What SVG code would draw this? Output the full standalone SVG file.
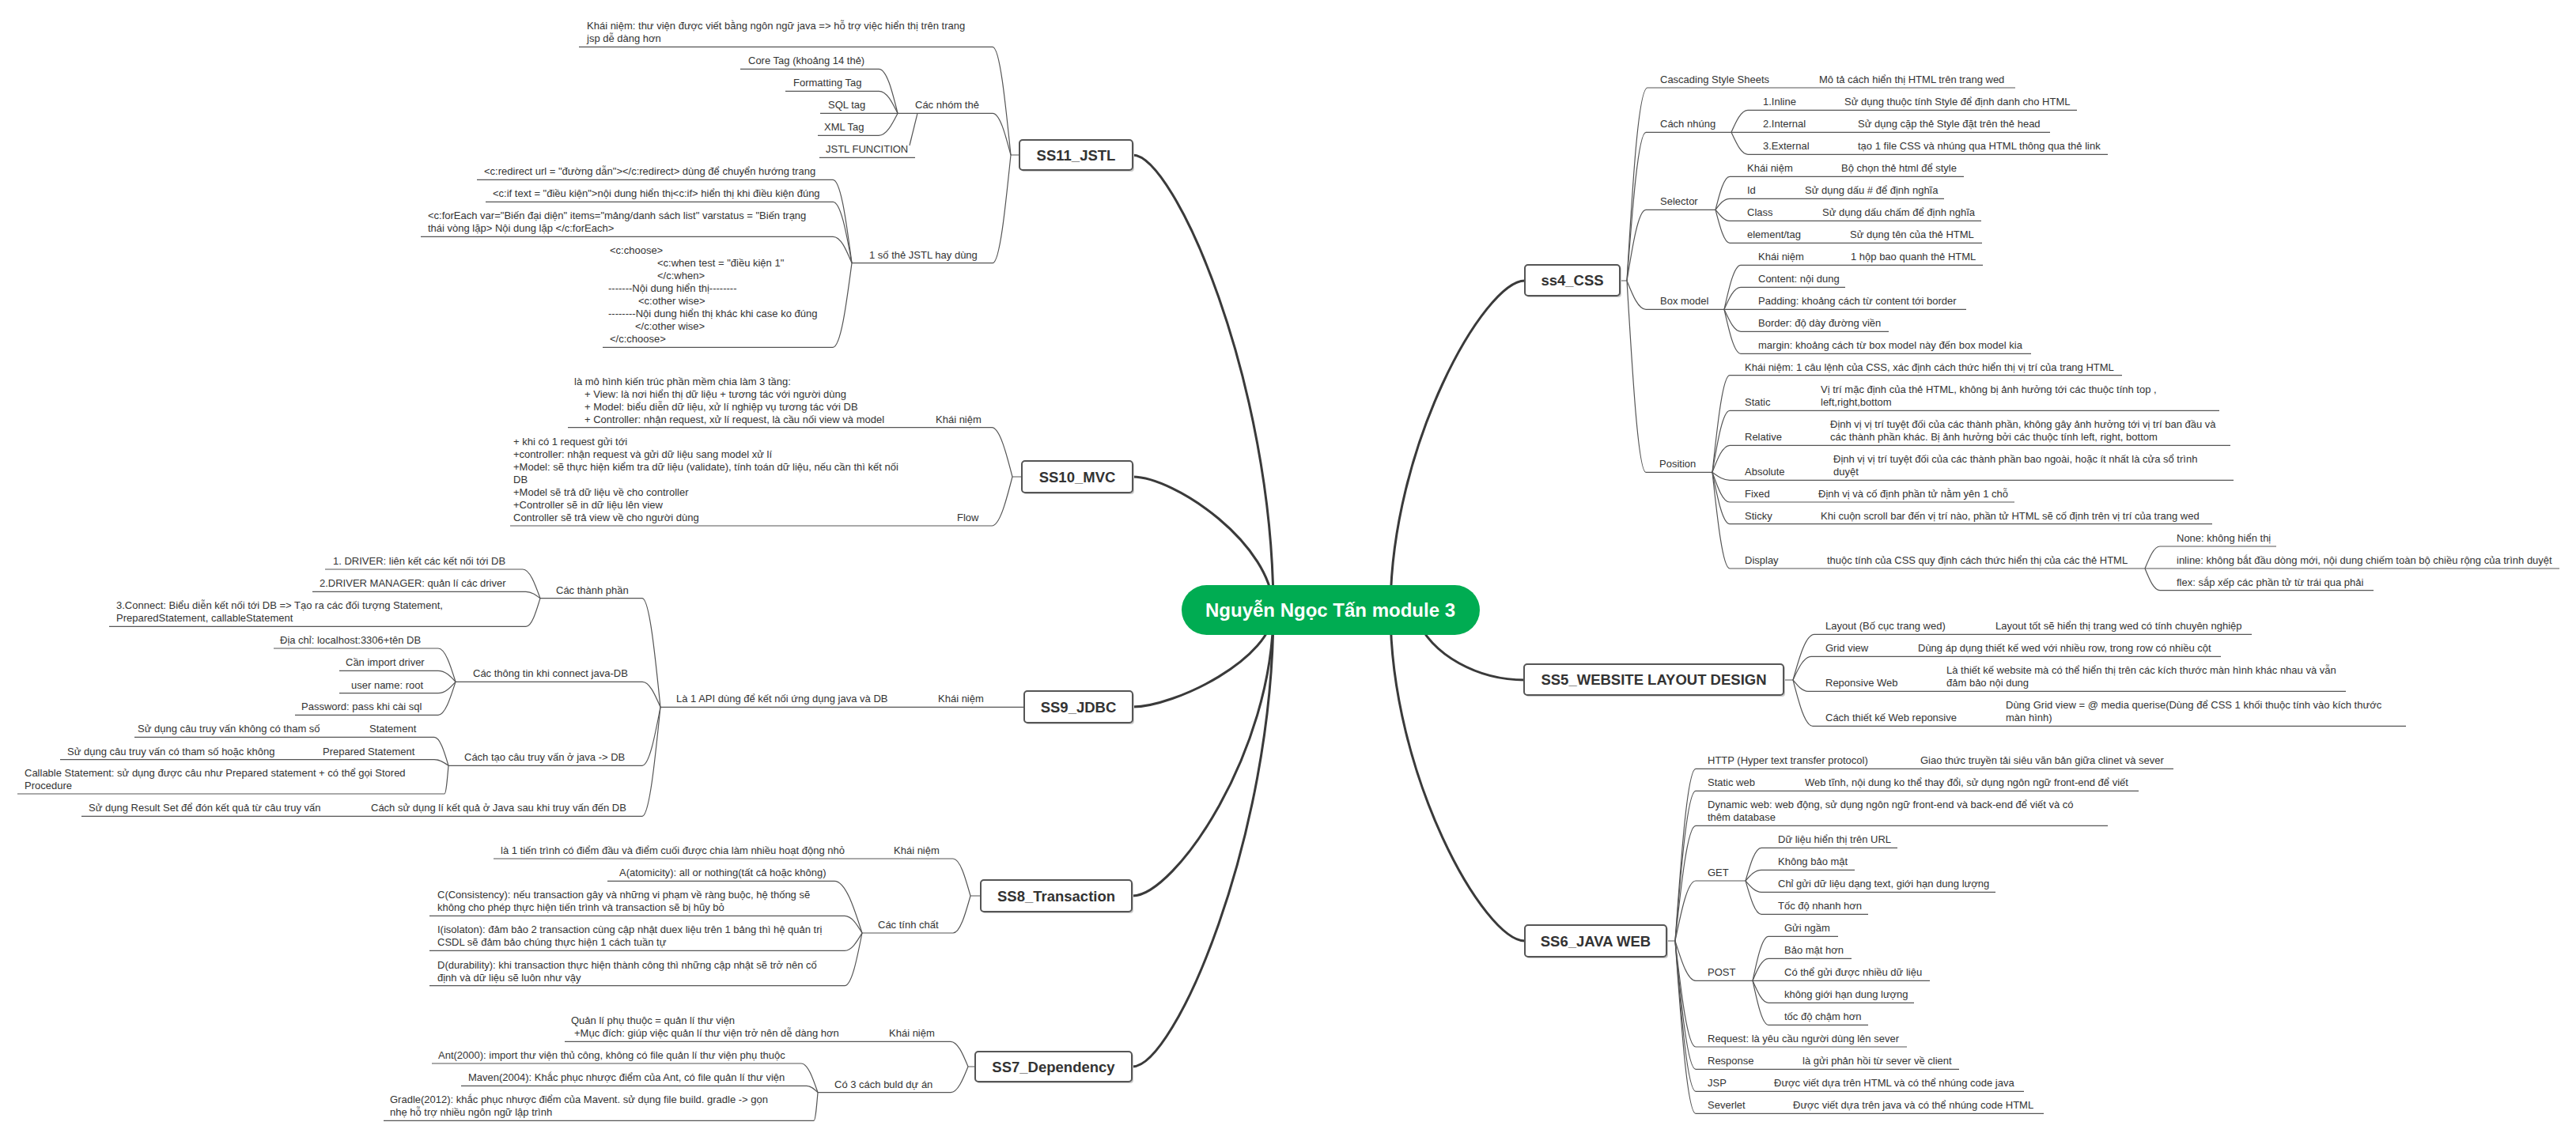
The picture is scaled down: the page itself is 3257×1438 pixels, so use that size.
<svg xmlns="http://www.w3.org/2000/svg" width="3257" height="1438" viewBox="0 0 3257 1438">
<style>
.t{font-family:"Liberation Sans",Arial,sans-serif;font-size:13px;fill:#333}
.u{fill:none;stroke:#555;stroke-width:1.2}
.c{fill:none;stroke:#555;stroke-width:1.2}
.m{fill:none;stroke:#3a3a3a;stroke-width:3}
.box{fill:#fff;stroke:#555;stroke-width:2}
.sh{fill:#ccc}
.bt{font-family:"Liberation Sans",Arial,sans-serif;font-size:18.5px;font-weight:bold;fill:#333;text-anchor:middle}
</style>
<rect width="3257" height="1438" fill="#fff"/>

<g id="connectors">
<!-- main -->
<path class="m" d="M1610,772 C1610,484 1485,196 1432,196"/>
<path class="m" d="M1610,772 C1610,688 1485,603 1432,603"/>
<path class="m" d="M1610,772 C1610,833 1485,894 1432,894"/>
<path class="m" d="M1610,772 C1610,952 1485,1133 1432,1133"/>
<path class="m" d="M1610,772 C1610,1060 1485,1349 1432,1349"/>
<path class="m" d="M1758,772 C1758,564 1877,355 1928,355"/>
<path class="m" d="M1790,780 C1810,830 1870,860 1928,860"/>
<path class="m" d="M1758,772 C1758,981 1877,1190 1928,1190"/>
<!-- stubs -->
<path class="c" d="M1289,196 H1278 M1292,603 H1280 M1240,1133 H1227 M1233,1349 H1224 M2048,355 H2057 M2255,860 H2267 M2107,1190 H2118"/>
<!-- SS11 -->
<path class="c" d="M1278,196 C1271,127.5 1264,59 1255,59.3"/>
<path class="c" d="M1278,196 C1271,169.5 1264,143 1255,143.3"/>
<path class="c" d="M1278,196 C1271,264.5 1264,333 1255,332.7"/>
<path class="c" d="M1135,143.3 C1128,115 1121,87 1111,87.3"/>
<path class="c" d="M1135,143.3 C1128,129 1121,115 1111,115.3"/>
<path class="c" d="M1135,143.3 C1128,157 1121,171 1111,171.3"/>
<path class="c" d="M1160,143.3 L1150,184"/>
<path class="c" d="M1077,332.7 C1070,280 1063,227 1053,227.3"/>
<path class="c" d="M1077,332.7 C1070,294 1063,255 1053,255.3"/>
<path class="c" d="M1077,332.7 C1070,316 1063,299 1053,299.3"/>
<path class="c" d="M1077,332.7 C1070,386 1063,439 1053,439.3"/>
<!-- SS10 -->
<path class="c" d="M1280,603 C1272,572 1264,541 1254,540.7"/>
<path class="c" d="M1280,603 C1272,634 1264,665 1254,665"/>
<!-- SS9 -->
<path class="c" d="M835,894.3 C828,825.5 821,757 812,756.7"/>
<path class="c" d="M835,894.3 C828,878 821,862 812,862.3"/>
<path class="c" d="M835,894.3 C828,931 821,968 812,968.3"/>
<path class="c" d="M835,894.3 C828,963 821,1032 812,1032.3"/>
<path class="c" d="M683,756.7 C676.4,738.5 669.8,720 661,720"/>
<path class="c" d="M683,756.7 C677.6,752.5 672.2,748.3 665,748.3"/>
<path class="c" d="M683,756.7 C677.6,774.5 672.2,792.3 665,792.3"/>
<path class="c" d="M576,862.3 C569.4,841 562.8,820 554,820"/>
<path class="c" d="M576,862.3 C569.4,855 562.8,848.3 554,848.3"/>
<path class="c" d="M576,862.3 C569.4,869.5 562.8,876.7 554,876.7"/>
<path class="c" d="M576,862.3 C569.4,883 562.8,904.3 554,904.3"/>
<path class="c" d="M567,968.3 C561.6,950 556.2,932.3 549,932.3"/>
<path class="c" d="M567,968.3 C561.6,964.5 556.2,960.7 549,960.7"/>
<path class="c" d="M567,968.3 C565.5,986 564,1004 562,1004"/>
<!-- SS8 -->
<path class="c" d="M1227,1133 C1220.4,1109.5 1213.8,1086 1205,1086"/>
<path class="c" d="M1227,1133 C1220.4,1156.5 1213.8,1180 1205,1180"/>
<path class="c" d="M1090,1180 C1079.5,1147 1069,1114.3 1055,1114.3"/>
<path class="c" d="M1090,1180 C1083.4,1169 1076.8,1158.3 1068,1158.3"/>
<path class="c" d="M1090,1180 C1083.4,1191 1076.8,1202.3 1068,1202.3"/>
<path class="c" d="M1090,1180 C1083.4,1213.5 1076.8,1246.7 1068,1246.7"/>
<!-- SS7 -->
<path class="c" d="M1224,1349 C1217.4,1333 1210.8,1317.3 1202,1317.3"/>
<path class="c" d="M1224,1349 C1217.4,1365.5 1210.8,1381.7 1202,1381.7"/>
<path class="c" d="M1034,1381.7 C1027.7,1363.5 1021.4,1345 1013,1345"/>
<path class="c" d="M1034,1381.7 C1029.8,1377.5 1025.6,1373.3 1020,1373.3"/>
<path class="c" d="M1034,1381.7 C1032.5,1399.5 1031,1417.3 1029,1417.3"/>
<!-- ss4 -->
<path class="c" d="M2057,355 C2064.2,233 2071.4,111 2083,111"/>
<path class="c" d="M2057,355 C2064.2,261 2071.4,167.3 2081,167.3"/>
<path class="c" d="M2057,355 C2064.2,310 2071.4,265.3 2081,265.3"/>
<path class="c" d="M2057,355 C2064.2,373 2071.4,391.3 2081,391.3"/>
<path class="c" d="M2057,355 C2064.2,476 2071.4,597.3 2081,597.3"/>
<path class="c" d="M2189,167.3 C2195.3,153 2201.6,139.3 2210,139.3"/>
<path class="c" d="M2189,167.3 C2195.3,181 2201.6,195.3 2210,195.3"/>
<path class="c" d="M2169,265.3 C2174.4,244 2179.8,223.3 2187,223.3"/>
<path class="c" d="M2169,265.3 C2174.4,258 2179.8,251.3 2187,251.3"/>
<path class="c" d="M2169,265.3 C2174.4,272 2179.8,279.3 2187,279.3"/>
<path class="c" d="M2169,265.3 C2174.4,286 2179.8,307.3 2187,307.3"/>
<path class="c" d="M2180,391.3 C2186.3,363 2192.6,335.3 2201,335.3"/>
<path class="c" d="M2180,391.3 C2186.3,377 2192.6,363.3 2201,363.3"/>
<path class="c" d="M2180,391.3 C2186.3,405 2192.6,419.3 2201,419.3"/>
<path class="c" d="M2180,391.3 C2186.3,419 2192.6,447.3 2201,447.3"/>
<path class="c" d="M2165,597.3 C2171.6,536 2178.2,474.7 2187,474.7"/>
<path class="c" d="M2165,597.3 C2171.6,558 2178.2,519.3 2187,519.3"/>
<path class="c" d="M2165,597.3 C2171.6,580 2178.2,563.3 2187,563.3"/>
<path class="c" d="M2165,597.3 C2171.6,602 2178.2,607.3 2187,607.3"/>
<path class="c" d="M2165,597.3 C2171.6,616 2178.2,635 2187,635"/>
<path class="c" d="M2165,597.3 C2171.6,630 2178.2,662.7 2187,662.7"/>
<path class="c" d="M2165,597.3 C2171.6,658 2178.2,719 2187,719"/>
<path class="c" d="M2712,719 C2717.7,705 2723.4,691 2731,691"/>
<path class="c" d="M2712,719 C2717.7,733 2723.4,746.7 2731,746.7"/>
<!-- SS5 -->
<path class="c" d="M2267,860 C2275.1,831 2283.2,802.3 2294,802.3"/>
<path class="c" d="M2267,860 C2273.9,845 2280.8,830.3 2290,830.3"/>
<path class="c" d="M2267,860 C2272.7,867 2278.4,874.3 2286,874.3"/>
<path class="c" d="M2267,860 C2274.5,889 2282,918.3 2292,918.3"/>
<!-- SS6 -->
<path class="c" d="M2118,1190 C2125.8,1081 2133.6,972.3 2144,972.3"/>
<path class="c" d="M2118,1190 C2125.8,1095 2133.6,1000.3 2144,1000.3"/>
<path class="c" d="M2118,1190 C2125.8,1117 2133.6,1044.3 2144,1044.3"/>
<path class="c" d="M2118,1190 C2125.8,1152 2133.6,1114 2144,1114"/>
<path class="c" d="M2118,1190 C2125.8,1215 2133.6,1240.3 2144,1240.3"/>
<path class="c" d="M2118,1190 C2125.8,1257 2133.6,1324 2144,1324"/>
<path class="c" d="M2118,1190 C2125.8,1271 2133.6,1352.3 2144,1352.3"/>
<path class="c" d="M2118,1190 C2125.8,1285 2133.6,1380.3 2144,1380.3"/>
<path class="c" d="M2118,1190 C2125.8,1299 2133.6,1408.3 2144,1408.3"/>
<path class="c" d="M2207,1114 C2213,1093 2219,1072.3 2227,1072.3"/>
<path class="c" d="M2207,1114 C2213,1107 2219,1100.3 2227,1100.3"/>
<path class="c" d="M2207,1114 C2213,1121 2219,1128.3 2227,1128.3"/>
<path class="c" d="M2207,1114 C2213,1135 2219,1156.3 2227,1156.3"/>
<path class="c" d="M2216,1240.3 C2222,1212 2228,1184.3 2236,1184.3"/>
<path class="c" d="M2216,1240.3 C2222,1226 2228,1212.3 2236,1212.3"/>
<path class="c" d="M2216,1240.3 C2222,1254 2228,1268.3 2236,1268.3"/>
<path class="c" d="M2216,1240.3 C2222,1268 2228,1296.3 2236,1296.3"/>
</g>

<g id="root">
<rect x="1494" y="740" width="377" height="63" rx="31.5" fill="#00AC52"/>
<text x="1682" y="780" font-family="Liberation Sans,Arial,sans-serif" font-size="24" font-weight="bold" fill="#fff" text-anchor="middle">Nguyễn Ngọc Tấn module 3</text>
</g>

<g id="ss11"><rect class="sh" x="1291" y="179" width="143" height="38" rx="4"/><rect class="box" x="1289" y="177" width="143" height="38" rx="4"/><text class="bt" x="1360.5" y="202.5">SS11_JSTL</text></g>
<g id="ss10"><rect class="sh" x="1294" y="585" width="140" height="40" rx="4"/><rect class="box" x="1292" y="583" width="140" height="40" rx="4"/><text class="bt" x="1362" y="609.5">SS10_MVC</text></g>
<g id="ss9"><rect class="sh" x="1297" y="876" width="137" height="40" rx="4"/><rect class="box" x="1295" y="874" width="137" height="40" rx="4"/><text class="bt" x="1363.5" y="900.5">SS9_JDBC</text></g>
<g id="ss8"><rect class="sh" x="1242" y="1115" width="191" height="40" rx="4"/><rect class="box" x="1240" y="1113" width="191" height="40" rx="4"/><text class="bt" x="1335.5" y="1139.5">SS8_Transaction</text></g>
<g id="ss7"><rect class="sh" x="1235" y="1332" width="198" height="38" rx="4"/><rect class="box" x="1233" y="1330" width="198" height="38" rx="4"/><text class="bt" x="1332" y="1355.5">SS7_Dependency</text></g>
<g id="ss4"><rect class="sh" x="1930" y="337" width="120" height="39" rx="4"/><rect class="box" x="1928" y="335" width="120" height="39" rx="4"/><text class="bt" x="1988" y="361">ss4_CSS</text></g>
<g id="ss5"><rect class="sh" x="1929" y="842" width="328" height="39" rx="4"/><rect class="box" x="1927" y="840" width="328" height="39" rx="4"/><text class="bt" x="2091" y="866">SS5_WEBSITE LAYOUT DESIGN</text></g>
<g id="ss6"><rect class="sh" x="1930" y="1172" width="179" height="40" rx="4"/><rect class="box" x="1928" y="1170" width="179" height="40" rx="4"/><text class="bt" x="2017.5" y="1196.5">SS6_JAVA WEB</text></g>

<!-- SS11 topics -->
<g id="ss11-kn"><path class="u" d="M732,59.3 H1255"/><text class="t" x="742" y="37.3">Khái niệm: thư viện được viết bằng ngôn ngữ java =&gt; hỗ trợ việc hiển thị trên trang</text><text class="t" x="742" y="53.3">jsp dễ dàng hơn</text></g>
<g id="ss11-nhom"><path class="u" d="M1135,143.3 H1255"/><text class="t" x="1157" y="137.3">Các nhóm thẻ</text></g>
<g id="ss11-core"><path class="u" d="M936,87.3 H1111"/><text class="t" x="946" y="81.3">Core Tag (khoảng 14 thẻ)</text></g>
<g id="ss11-fmt"><path class="u" d="M993,115.3 H1111"/><text class="t" x="1003" y="109.3">Formatting Tag</text></g>
<g id="ss11-sql"><path class="u" d="M1037,143.3 H1135"/><text class="t" x="1047" y="137.3">SQL tag</text></g>
<g id="ss11-xml"><path class="u" d="M1034,171.3 H1111"/><text class="t" x="1042" y="165.3">XML Tag</text></g>
<g id="ss11-fn"><path class="u" d="M1036,199.3 H1157"/><text class="t" x="1044" y="193.3">JSTL FUNCITION</text></g>
<g id="ss11-hay"><path class="u" d="M1077,332.7 H1255"/><text class="t" x="1099" y="326.7">1 số thẻ JSTL hay dùng</text></g>
<g id="ss11-redirect"><path class="u" d="M603,227.3 H1053"/><text class="t" x="612" y="221.3">&lt;c:redirect url = "đường dẫn"&gt;&lt;/c:redirect&gt; dùng để chuyển hướng trang</text></g>
<g id="ss11-if"><path class="u" d="M614,255.3 H1053"/><text class="t" x="623" y="249.3">&lt;c:if text = "điều kiện"&gt;nội dung hiển thị&lt;c:if&gt; hiển thị khi điều kiện đúng</text></g>
<g id="ss11-foreach"><path class="u" d="M532,299.3 H1053"/><text class="t" x="541" y="277.3">&lt;c:forEach var="Biến đại diện" items="mảng/danh sách list" varstatus = "Biến trạng</text><text class="t" x="541" y="293.3">thái vòng lặp&gt; Nội dung lặp &lt;/c:forEach&gt;</text></g>
<g id="ss11-choose"><path class="u" d="M762,439.3 H1053"/>
<text class="t" x="771" y="321.3">&lt;c:choose&gt;</text>
<text class="t" x="831" y="337.3">&lt;c:when test = "điều kiện 1"</text>
<text class="t" x="831" y="353.3">&lt;/c:when&gt;</text>
<text class="t" x="769" y="369.3">-------Nội dung hiển thị--------</text>
<text class="t" x="807" y="385.3">&lt;c:other wise&gt;</text>
<text class="t" x="769" y="401.3">--------Nội dung hiển thị khác khi case ko đúng</text>
<text class="t" x="803" y="417.3">&lt;/c:other wise&gt;</text>
<text class="t" x="771" y="433.3">&lt;/c:choose&gt;</text></g>

<!-- SS10 topics -->
<g id="ss10-kn"><path class="u" d="M718,540.7 H1254"/>
<text class="t" x="726" y="486.7">là mô hình kiến trúc phần mềm chia làm 3 tầng:</text>
<text class="t" x="739" y="502.7">+ View: là nơi hiển thị dữ liệu + tương tác với người dùng</text>
<text class="t" x="739" y="518.7">+ Model: biểu diễn dữ liệu, xử lí nghiệp vụ tương tác với DB</text>
<text class="t" x="739" y="534.7">+ Controller: nhận request, xử lí request, là cầu nối view và model</text>
<text class="t" x="1183" y="534.7">Khái niệm</text></g>
<g id="ss10-flow"><path class="u" d="M645,665 H1254"/>
<text class="t" x="649" y="563">+ khi có 1 request gửi tới</text>
<text class="t" x="649" y="579">+controller: nhận request và gửi dữ liệu sang model xử lí</text>
<text class="t" x="649" y="595">+Model: sẽ thực hiện kiểm tra dữ liệu (validate), tính toán dữ liệu, nếu cần thì kết nối</text>
<text class="t" x="649" y="611">DB</text>
<text class="t" x="649" y="627">+Model sẽ trả dữ liệu về cho controller</text>
<text class="t" x="649" y="643">+Controller sẽ in dữ liệu lên view</text>
<text class="t" x="649" y="659">Controller sẽ trả view về cho người dùng</text>
<text class="t" x="1210" y="659">Flow</text></g>

<!-- SS9 topics -->
<g id="ss9-kn"><path class="u" d="M835,894.3 H1295"/><text class="t" x="1186" y="888.3">Khái niệm</text><text class="t" x="855" y="888.3">Là 1 API dùng để kết nối ứng dụng java và DB</text></g>
<g id="ss9-tp"><path class="u" d="M683,756.7 H812"/><text class="t" x="703" y="750.7">Các thành phần</text></g>
<g id="ss9-tp1"><path class="u" d="M411,720 H661"/><text class="t" x="421" y="714">1. DRIVER: liên kết các kết nối tới DB</text></g>
<g id="ss9-tp2"><path class="u" d="M395,748.3 H665"/><text class="t" x="404" y="742.3">2.DRIVER MANAGER: quản lí các driver</text></g>
<g id="ss9-tp3"><path class="u" d="M138,792.3 H665"/><text class="t" x="147" y="770.3">3.Connect: Biểu diễn kết nối tới DB =&gt; Tạo ra các đối tượng Statement,</text><text class="t" x="147" y="786.3">PreparedStatement, callableStatement</text></g>
<g id="ss9-tt"><path class="u" d="M576,862.3 H812"/><text class="t" x="598" y="856.3">Các thông tin khi connect java-DB</text></g>
<g id="ss9-tt1"><path class="u" d="M346,820 H554"/><text class="t" x="354" y="814">Địa chỉ: localhost:3306+tên DB</text></g>
<g id="ss9-tt2"><path class="u" d="M429,848.3 H554"/><text class="t" x="437" y="842.3">Cần import driver</text></g>
<g id="ss9-tt3"><path class="u" d="M429,876.7 H554"/><text class="t" x="444" y="870.7">user name: root</text></g>
<g id="ss9-tt4"><path class="u" d="M373,904.3 H554"/><text class="t" x="381" y="898.3">Password: pass khi cài sql</text></g>
<g id="ss9-ct"><path class="u" d="M567,968.3 H812"/><text class="t" x="587" y="962.3">Cách tạo câu truy vấn ở java -&gt; DB</text></g>
<g id="ss9-ct1"><path class="u" d="M170,932.3 H549"/><text class="t" x="467" y="926.3">Statement</text><text class="t" x="174" y="926.3">Sử dụng câu truy vấn không có tham số</text></g>
<g id="ss9-ct2"><path class="u" d="M76,960.7 H549"/><text class="t" x="408" y="954.7">Prepared Statement</text><text class="t" x="85" y="954.7">Sử dụng câu truy vấn có tham số hoặc không</text></g>
<g id="ss9-ct3"><path class="u" d="M22,1004 H562"/><text class="t" x="31" y="982">Callable Statement: sử dụng được câu  như Prepared statement + có thể gọi Stored</text><text class="t" x="31" y="998">Procedure</text></g>
<g id="ss9-kq"><path class="u" d="M103,1032.3 H812"/><text class="t" x="469" y="1026.3">Cách sử dụng lí kết quả ở Java sau khi truy vấn đến DB</text><text class="t" x="112" y="1026.3">Sử dụng Result Set để đón kết quả từ câu truy vấn</text></g>

<!-- SS8 topics -->
<g id="ss8-kn"><path class="u" d="M624,1086 H1205"/><text class="t" x="1130" y="1080">Khái niệm</text><text class="t" x="633" y="1080">là 1 tiến trình có điểm đầu và điểm cuối được chia làm nhiều hoạt động nhỏ</text></g>
<g id="ss8-tc"><path class="u" d="M1090,1180 H1205"/><text class="t" x="1110" y="1174">Các tính chất</text></g>
<g id="ss8-a"><path class="u" d="M768,1114.3 H1055"/><text class="t" x="783" y="1108.3">A(atomicity): all or nothing(tất cả hoặc không)</text></g>
<g id="ss8-c"><path class="u" d="M543,1158.3 H1068"/><text class="t" x="553" y="1136.3">C(Consistency): nếu transaction gây và những vi phạm về ràng buộc, hệ thống sẽ</text><text class="t" x="553" y="1152.3">không cho phép thực hiện tiến trình và transaction sẽ bị hũy bỏ</text></g>
<g id="ss8-i"><path class="u" d="M543,1202.3 H1068"/><text class="t" x="553" y="1180.3">I(isolaton): đảm bảo 2 transaction cùng cập nhật duex liệu trên 1 bảng thì hệ quản trị</text><text class="t" x="553" y="1196.3">CSDL sẽ đảm bảo chúng thực hiện 1 cách tuần tự</text></g>
<g id="ss8-d"><path class="u" d="M543,1246.7 H1068"/><text class="t" x="553" y="1224.7">D(durability): khi transaction thực hiện thành công thì những cập nhật sẽ trở nên cố</text><text class="t" x="553" y="1240.7">định và dữ liệu sẽ luôn như vậy</text></g>

<!-- SS7 topics -->
<g id="ss7-kn"><path class="u" d="M714,1317.3 H1202"/><text class="t" x="1124" y="1311.3">Khái niệm</text><text class="t" x="722" y="1295.3">Quản lí phụ thuộc = quản lí thư viện</text><text class="t" x="726" y="1311.3">+Mục đích: giúp việc quản lí thư viện trở nên dễ dàng hơn</text></g>
<g id="ss7-build"><path class="u" d="M1034,1381.7 H1202"/><text class="t" x="1055" y="1375.7">Có 3 cách buld dự án</text></g>
<g id="ss7-ant"><path class="u" d="M546,1345 H1013"/><text class="t" x="554" y="1339">Ant(2000): import thư viện thủ công, không có file quản lí thư viện phụ thuộc</text></g>
<g id="ss7-maven"><path class="u" d="M583,1373.3 H1020"/><text class="t" x="592" y="1367.3">Maven(2004): Khắc phục nhược điểm của Ant, có file quản lí thư viện</text></g>
<g id="ss7-gradle"><path class="u" d="M485,1417.3 H1029"/><text class="t" x="493" y="1395.3">Gradle(2012): khắc phục nhược điểm của Mavent. sử dụng file build. gradle -&gt; gọn</text><text class="t" x="493" y="1411.3">nhẹ hỗ trợ nhiều ngôn ngữ lập trình</text></g>

<!-- ss4 topics -->
<g id="css-csd"><path class="u" d="M2083,111 H2548"/><text class="t" x="2099" y="105">Cascading Style Sheets</text><text class="t" x="2300" y="105">Mô tả cách hiển thị HTML trên trang wed</text></g>
<g id="css-nhung"><path class="u" d="M2081,167.3 H2189"/><text class="t" x="2099" y="161.3">Cách nhúng</text></g>
<g id="css-inline"><path class="u" d="M2210,139.3 H2626"/><text class="t" x="2229" y="133.3">1.Inline</text><text class="t" x="2332" y="133.3">Sử dụng thuộc tính Style để định danh cho HTML</text></g>
<g id="css-internal"><path class="u" d="M2189,167.3 H2592"/><text class="t" x="2229" y="161.3">2.Internal</text><text class="t" x="2349" y="161.3">Sử dụng cặp thẻ Style đặt trên thẻ head</text></g>
<g id="css-external"><path class="u" d="M2210,195.3 H2665"/><text class="t" x="2229" y="189.3">3.External</text><text class="t" x="2349" y="189.3">tạo 1 file CSS và nhúng qua HTML thông qua thẻ link</text></g>
<g id="css-sel"><path class="u" d="M2081,265.3 H2169"/><text class="t" x="2099" y="259.3">Selector</text></g>
<g id="css-sel-kn"><path class="u" d="M2187,223.3 H2483"/><text class="t" x="2209" y="217.3">Khái niệm</text><text class="t" x="2328" y="217.3">Bộ chọn thẻ html để style</text></g>
<g id="css-sel-id"><path class="u" d="M2187,251.3 H2458"/><text class="t" x="2209" y="245.3">Id</text><text class="t" x="2282" y="245.3">Sử dụng dấu # để định nghĩa</text></g>
<g id="css-sel-class"><path class="u" d="M2187,279.3 H2505"/><text class="t" x="2209" y="273.3">Class</text><text class="t" x="2304" y="273.3">Sử dụng dấu chấm để định nghĩa</text></g>
<g id="css-sel-tag"><path class="u" d="M2187,307.3 H2506"/><text class="t" x="2209" y="301.3">element/tag</text><text class="t" x="2339" y="301.3">Sử dụng tên của thẻ HTML</text></g>
<g id="css-box"><path class="u" d="M2081,391.3 H2180"/><text class="t" x="2099" y="385.3">Box model</text></g>
<g id="css-box-kn"><path class="u" d="M2201,335.3 H2507"/><text class="t" x="2223" y="329.3">Khái niệm</text><text class="t" x="2340" y="329.3">1 hộp bao quanh thẻ HTML</text></g>
<g id="css-box-content"><path class="u" d="M2201,363.3 H2333"/><text class="t" x="2223" y="357.3">Content: nội dung</text></g>
<g id="css-box-padding"><path class="u" d="M2180,391.3 H2486"/><text class="t" x="2223" y="385.3">Padding: khoảng cách từ content tới border</text></g>
<g id="css-box-border"><path class="u" d="M2201,419.3 H2388"/><text class="t" x="2223" y="413.3">Border: độ dày đường viền</text></g>
<g id="css-box-margin"><path class="u" d="M2201,447.3 H2568"/><text class="t" x="2223" y="441.3">margin: khoảng cách từ box model này đến box model kia</text></g>
<g id="css-pos"><path class="u" d="M2081,597.3 H2165"/><text class="t" x="2098" y="591.3">Position</text></g>
<g id="css-pos-kn"><path class="u" d="M2187,474.7 H2683"/><text class="t" x="2206" y="468.7">Khái niệm: 1 câu lệnh của CSS, xác định cách thức hiển thị vị trí của trang HTML</text></g>
<g id="css-pos-static"><path class="u" d="M2187,519.3 H2806"/><text class="t" x="2206" y="513.3">Static</text><text class="t" x="2302" y="497.3">Vị trí mặc định của thẻ HTML, không bị ảnh hưởng tới các thuộc tính top ,</text><text class="t" x="2302" y="513.3">left,right,bottom</text></g>
<g id="css-pos-relative"><path class="u" d="M2187,563.3 H2820"/><text class="t" x="2206" y="557.3">Relative</text><text class="t" x="2314" y="541.3">Định vị vị trí tuyệt đối của các thành phần, không gây ảnh hưởng tới vị trí ban đầu và</text><text class="t" x="2314" y="557.3">các thành phần khác. Bị ảnh hưởng bởi các thuộc tính left, right, bottom</text></g>
<g id="css-pos-absolute"><path class="u" d="M2187,607.3 H2824"/><text class="t" x="2206" y="601.3">Absolute</text><text class="t" x="2318" y="585.3">Định vị vị trí tuyệt đối của các thành phần bao ngoài, hoặc ít nhất là cửa sổ trình</text><text class="t" x="2318" y="601.3">duyệt</text></g>
<g id="css-pos-fixed"><path class="u" d="M2187,635 H2547"/><text class="t" x="2206" y="629">Fixed</text><text class="t" x="2299" y="629">Định vị và cố định phần tử nằm yên 1 chỗ</text></g>
<g id="css-pos-sticky"><path class="u" d="M2187,662.7 H2797"/><text class="t" x="2206" y="656.7">Sticky</text><text class="t" x="2302" y="656.7">Khi cuộn scroll bar đến vị trí nào, phần tử HTML sẽ cố định trên vị trí của trang wed</text></g>
<g id="css-display"><path class="u" d="M2187,719 H2712"/><text class="t" x="2206" y="713">Display</text><text class="t" x="2310" y="713">thuộc tính của CSS quy định cách thức hiển thị của các thẻ HTML</text></g>
<g id="css-display-none"><path class="u" d="M2731,691 H2878"/><text class="t" x="2752" y="685">None: không hiển thị</text></g>
<g id="css-display-inline"><path class="u" d="M2712,719 H3236"/><text class="t" x="2752" y="713">inline: không bắt đầu dòng mới, nội dung chiếm toàn bộ chiều rộng của trình duyệt</text></g>
<g id="css-display-flex"><path class="u" d="M2731,746.7 H3001"/><text class="t" x="2752" y="740.7">flex: sắp xếp các phần tử từ trái qua phải</text></g>

<!-- SS5 topics -->
<g id="ss5-layout"><path class="u" d="M2294,802.3 H2847"/><text class="t" x="2308" y="796.3">Layout (Bố cục trang wed)</text><text class="t" x="2523" y="796.3">Layout tốt sẽ hiển thị trang wed có tính chuyên nghiệp</text></g>
<g id="ss5-grid"><path class="u" d="M2290,830.3 H2808"/><text class="t" x="2308" y="824.3">Grid view</text><text class="t" x="2425" y="824.3">Dùng áp dụng thiết kế wed với nhiều row, trong row có nhiều cột</text></g>
<g id="ss5-resp"><path class="u" d="M2286,874.3 H2966"/><text class="t" x="2308" y="868.3">Reponsive Web</text><text class="t" x="2461" y="852.3">Là thiết kế website mà có thể hiển thị trên các kích thước màn hình khác nhau và vẫn</text><text class="t" x="2461" y="868.3">đảm bảo nội dung</text></g>
<g id="ss5-how"><path class="u" d="M2292,918.3 H3042"/><text class="t" x="2308" y="912.3">Cách thiết kế Web reponsive</text><text class="t" x="2536" y="896.3">Dùng Grid view = @ media querise(Dùng để CSS 1 khối thuộc tính vào kích thước</text><text class="t" x="2536" y="912.3">màn hình)</text></g>

<!-- SS6 topics -->
<g id="ss6-http"><path class="u" d="M2144,972.3 H2748"/><text class="t" x="2159" y="966.3">HTTP (Hyper text transfer protocol)</text><text class="t" x="2428" y="966.3">Giao thức truyền tải siêu văn bản giữa clinet và sever</text></g>
<g id="ss6-static"><path class="u" d="M2144,1000.3 H2704"/><text class="t" x="2159" y="994.3">Static web</text><text class="t" x="2282" y="994.3">Web tĩnh, nội dung ko thể thay đổi, sử dụng ngôn ngữ front-end để viết</text></g>
<g id="ss6-dynamic"><path class="u" d="M2144,1044.3 H2665"/><text class="t" x="2159" y="1022.3">Dynamic web: web động, sử dụng ngôn ngữ front-end và back-end để viết và có</text><text class="t" x="2159" y="1038.3">thêm database</text></g>
<g id="ss6-get"><path class="u" d="M2144,1114 H2207"/><text class="t" x="2159" y="1108">GET</text></g>
<g id="ss6-get1"><path class="u" d="M2227,1072.3 H2399"/><text class="t" x="2248" y="1066.3">Dữ liệu hiển thị trên URL</text></g>
<g id="ss6-get2"><path class="u" d="M2227,1100.3 H2345"/><text class="t" x="2248" y="1094.3">Không bảo mật</text></g>
<g id="ss6-get3"><path class="u" d="M2227,1128.3 H2523"/><text class="t" x="2248" y="1122.3">Chỉ gửi dữ liệu dạng text, giới hạn dung lượng</text></g>
<g id="ss6-get4"><path class="u" d="M2227,1156.3 H2362"/><text class="t" x="2248" y="1150.3">Tốc độ nhanh hơn</text></g>
<g id="ss6-post"><path class="u" d="M2144,1240.3 H2216"/><text class="t" x="2159" y="1234.3">POST</text></g>
<g id="ss6-post1"><path class="u" d="M2236,1184.3 H2324"/><text class="t" x="2256" y="1178.3">Gửi ngầm</text></g>
<g id="ss6-post2"><path class="u" d="M2236,1212.3 H2341"/><text class="t" x="2256" y="1206.3">Bảo mật hơn</text></g>
<g id="ss6-post3"><path class="u" d="M2216,1240.3 H2440"/><text class="t" x="2256" y="1234.3">Có thể gửi được nhiều dữ liệu</text></g>
<g id="ss6-post4"><path class="u" d="M2236,1268.3 H2420"/><text class="t" x="2256" y="1262.3">không giới hạn dung lượng</text></g>
<g id="ss6-post5"><path class="u" d="M2236,1296.3 H2362"/><text class="t" x="2256" y="1290.3">tốc độ chậm hơn</text></g>
<g id="ss6-request"><path class="u" d="M2144,1324 H2411"/><text class="t" x="2159" y="1318">Request: là yêu cầu người dùng lên sever</text></g>
<g id="ss6-response"><path class="u" d="M2144,1352.3 H2477"/><text class="t" x="2159" y="1346.3">Response</text><text class="t" x="2279" y="1346.3">là gửi phản hồi từ sever về client</text></g>
<g id="ss6-jsp"><path class="u" d="M2144,1380.3 H2559"/><text class="t" x="2159" y="1374.3">JSP</text><text class="t" x="2243" y="1374.3">Được viết dựa trên HTML và có thể nhúng code java</text></g>
<g id="ss6-severlet"><path class="u" d="M2144,1408.3 H2584"/><text class="t" x="2159" y="1402.3">Severlet</text><text class="t" x="2267" y="1402.3">Được viết dựa trên java và có thể nhúng code HTML</text></g>
</svg>
